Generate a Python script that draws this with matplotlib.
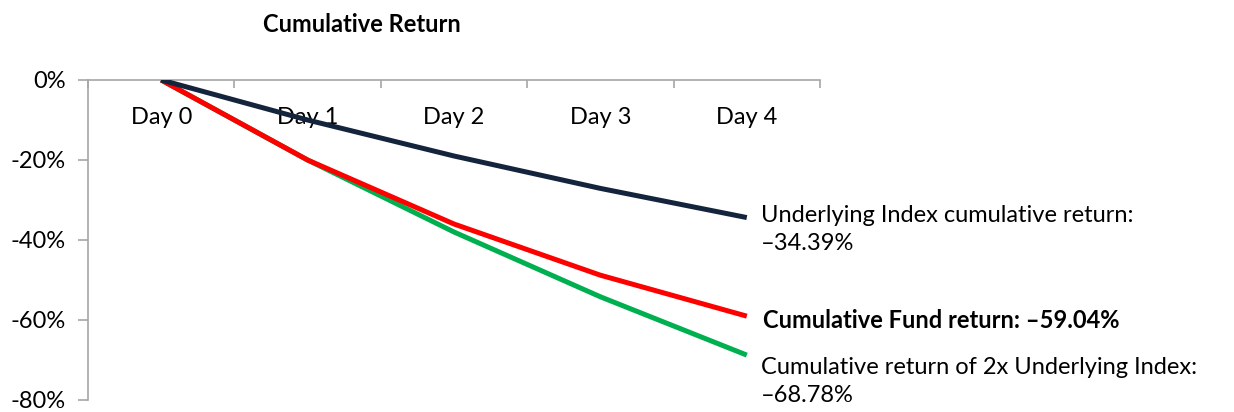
import matplotlib
matplotlib.use("Agg")
import matplotlib.pyplot as plt

days = ["Day 0", "Day 1", "Day 2", "Day 3", "Day 4"]
underlying = [0, -10.0, -19.0, -27.1, -34.39]
fund = [0, -20.0, -36.0, -48.8, -59.04]
twox = [0, -20.0, -38.0, -54.2, -68.78]
yticks = [0, -20, -40, -60, -80]

NAVY = "#14243c"; RED = "#ff0000"; GREEN = "#00b050"; AXC = "#a6a6a6"; INK = "#000000"
FS = 17
plt.rcParams.update({"font.family": ["Lato", "DejaVu Sans"], "text.color": INK})

fig = plt.figure(figsize=(12.34, 4.12), dpi=100)
ax = fig.add_axes([88/1234, 1-400/412, (820-88)/1234, (400-80)/412])
xs = list(range(len(days)))
ax.plot(xs, twox, color=GREEN, lw=3.6, solid_capstyle="butt", zorder=3)
ax.plot(xs, fund, color=RED, lw=3.6, solid_capstyle="butt", zorder=4)
ax.plot(xs, underlying, color=NAVY, lw=3.6, solid_capstyle="butt", zorder=5)

ax.set_xlim(-0.5, len(days)-0.5); ax.set_ylim(-80, 0)
for s in ["right", "bottom"]:
    ax.spines[s].set_visible(False)
for s in ["left", "top"]:
    ax.spines[s].set_color(AXC); ax.spines[s].set_linewidth(1.2)
ax.xaxis.set_ticks_position("top")
ax.set_xticks([i-0.5 for i in range(len(days)+1)])
ax.tick_params(axis="x", direction="in", length=6, color=AXC, width=1.2, labeltop=False, labelbottom=False)
for i, d in enumerate(days):
    ax.text(i, -9.3, d, ha="center", va="center", fontsize=FS)
ax.set_yticks(yticks)
ax.set_yticklabels([f"{v}%" for v in yticks], fontsize=FS)
ax.tick_params(axis="y", direction="out", length=7, color=AXC, width=1.2, pad=9)

ax.annotate("Underlying Index cumulative return:\n\u201334.39%", (xs[-1], underlying[-1]),
            xytext=(10, 9), textcoords="offset points", ha="left", va="top",
            fontsize=FS, linespacing=1.42, annotation_clip=False)
ax.annotate("Cumulative Fund return: \u201359.04%", (xs[-1], fund[-1]),
            xytext=(12, -3), textcoords="offset points", ha="left", va="center",
            fontsize=FS, fontweight="bold", annotation_clip=False)
ax.annotate("Cumulative return of 2x Underlying Index:\n\u201368.78%", (xs[-1], twox[-1]),
            xytext=(10, -1), textcoords="offset points", ha="left", va="top",
            fontsize=FS, linespacing=1.42, annotation_clip=False)

fig.text(362/1234, 1-24/412, "Cumulative Return", ha="center", va="center", fontsize=17, fontweight="bold")
fig.savefig("out.png", dpi=100, facecolor="white")
